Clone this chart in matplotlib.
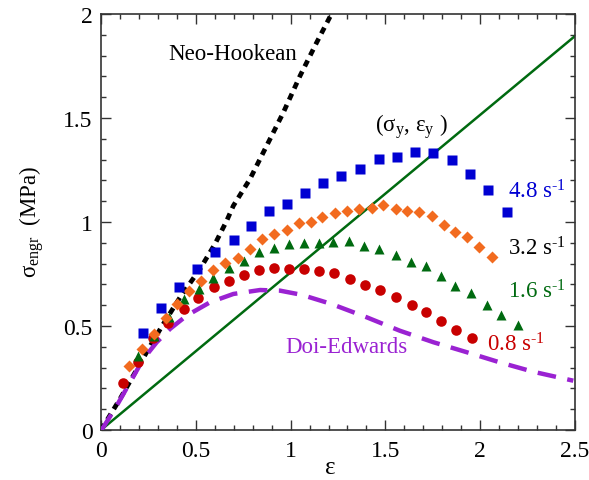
import matplotlib
matplotlib.use("Agg")
import matplotlib.pyplot as plt
from matplotlib.ticker import MultipleLocator

plt.rcParams['font.family']      = ['Liberation Serif', 'DejaVu Serif']
plt.rcParams['mathtext.fontset'] = 'custom'
plt.rcParams['mathtext.rm']      = 'Liberation Serif'
plt.rcParams['mathtext.it']      = 'Liberation Serif:italic'

# 4.8 1/s  (squares)
strain_48 = [0.220, 0.315, 0.411, 0.508, 0.603, 0.700, 0.793, 0.888, 0.983, 1.078,
             1.172, 1.267, 1.366, 1.465, 1.560, 1.656, 1.753, 1.851, 1.946, 2.043, 2.140]
stress_48 = [0.466, 0.588, 0.688, 0.774, 0.857, 0.912, 0.981, 1.054, 1.087, 1.141,
             1.189, 1.221, 1.256, 1.301, 1.314, 1.335, 1.330, 1.297, 1.231, 1.152, 1.047]

# 3.2 1/s  (diamonds)
strain_32 = [0.148, 0.215, 0.280, 0.344, 0.402, 0.466, 0.527, 0.591, 0.656, 0.721, 0.786,
             0.849, 0.911, 0.980, 1.044, 1.105, 1.168, 1.234, 1.296, 1.362, 1.428, 1.489,
             1.554, 1.615, 1.679, 1.744, 1.809, 1.867, 1.929, 1.994, 2.061]
stress_32 = [0.308, 0.389, 0.462, 0.540, 0.606, 0.668, 0.715, 0.768, 0.801, 0.827, 0.869,
             0.918, 0.942, 0.962, 0.993, 1.002, 1.023, 1.043, 1.051, 1.063, 1.066, 1.083,
             1.063, 1.051, 1.049, 1.027, 0.986, 0.954, 0.930, 0.882, 0.830]

# 1.6 1/s  (triangles)
strain_16 = [0.197, 0.277, 0.359, 0.438, 0.515, 0.593, 0.674, 0.754, 0.835, 0.912, 0.993,
             1.070, 1.151, 1.225, 1.310, 1.389, 1.468, 1.554, 1.635, 1.714, 1.793, 1.869,
             1.952, 2.035, 2.111, 2.198]
stress_16 = [0.357, 0.452, 0.543, 0.628, 0.677, 0.732, 0.780, 0.813, 0.857, 0.873, 0.895,
             0.901, 0.899, 0.905, 0.910, 0.886, 0.870, 0.841, 0.809, 0.787, 0.739, 0.692,
             0.657, 0.601, 0.553, 0.507]

# 0.8 1/s  (circles)
strain_08 = [0.114, 0.197, 0.276, 0.355, 0.438, 0.513, 0.596, 0.677, 0.754, 0.835, 0.912,
             0.992, 1.070, 1.150, 1.230, 1.313, 1.392, 1.472, 1.555, 1.639, 1.714, 1.793,
             1.872, 1.955]
stress_08 = [0.226, 0.328, 0.441, 0.513, 0.582, 0.636, 0.689, 0.716, 0.747, 0.771, 0.777,
             0.774, 0.773, 0.766, 0.756, 0.727, 0.698, 0.671, 0.640, 0.601, 0.566, 0.523,
             0.481, 0.442]

# model curves
neo_strain = [0.0, 0.03, 0.10, 0.17, 0.25, 0.32, 0.417, 0.522, 0.601, 0.663, 0.698,
              0.786, 0.874, 0.962, 1.050, 1.138, 1.211]
neo_stress = [0.0, 0.045, 0.149, 0.261, 0.389, 0.497, 0.638, 0.774, 0.894, 1.006, 1.078,
              1.207, 1.367, 1.527, 1.703, 1.864, 1.992]

de_strain = [0.0, 0.012, 0.083, 0.153, 0.223, 0.294, 0.364, 0.452, 0.575, 0.698, 0.839,
             0.944, 1.058, 1.215, 1.401, 1.577, 1.753, 1.929, 2.104, 2.280, 2.491]
de_stress = [0.0, 0.013, 0.117, 0.229, 0.341, 0.422, 0.486, 0.550, 0.614, 0.654, 0.673,
             0.670, 0.650, 0.606, 0.542, 0.477, 0.422, 0.374, 0.325, 0.280, 0.237]

yield_line_x = [0.0, 2.5]
yield_line_y = [0.0, 1.894]

rate_labels = ['4.8', '3.2', '1.6', '0.8']

BLUE   = '#0000D2'
ORANGE = '#F26B1F'
GREEN  = '#006A10'
RED    = '#C80000'
PURPLE = '#9A22D2'
FS     = 16.5

fig = plt.figure(figsize=(5.89, 4.81), dpi=100)
ax  = fig.add_axes([101/589, 50/481, 474/589, 416/481])

ax.plot(yield_line_x, yield_line_y, color=GREEN, lw=1.8, zorder=2)
ax.plot(neo_strain, neo_stress, color='black', lw=3.4, ls=(0, (1.4, 1.2)), zorder=3)
ax.plot(de_strain, de_stress, color=PURPLE, lw=3.2, ls=(0, (4.2, 2.6)), zorder=3)

ax.plot(strain_08, stress_08, 'o', color=RED,    ms=7.6, mec='none', zorder=4)
ax.plot(strain_16, stress_16, '^', color=GREEN,  ms=7.2, mec='none', zorder=4)
ax.plot(strain_32, stress_32, 'D', color=ORANGE, ms=6.2, mec='none', zorder=4)
ax.plot(strain_48, stress_48, 's', color=BLUE,   ms=7.4, mec='none', zorder=4)

ax.set_xlim(0, 2.5)
ax.set_ylim(0, 2)
ax.xaxis.set_major_locator(MultipleLocator(0.5))
ax.xaxis.set_minor_locator(MultipleLocator(0.1))
ax.yaxis.set_major_locator(MultipleLocator(0.5))
ax.yaxis.set_minor_locator(MultipleLocator(0.1))
ax.xaxis.set_major_formatter(plt.FuncFormatter(lambda v, p: f'{v:g}'))
ax.yaxis.set_major_formatter(plt.FuncFormatter(lambda v, p: f'{v:g}'))
ax.tick_params(which='both', direction='in', top=True, right=True, width=1.0,
               labelsize=17, color='#333333')
ax.tick_params(which='major', length=7.5)
ax.tick_params(which='minor', length=3.8)
ax.tick_params(axis='x', pad=7)
ax.tick_params(axis='y', pad=6)
for s in ax.spines.values():
  s.set_linewidth(1.2)
  s.set_color('#333333')

sup = r' s$^{\text{-1}}$'

# annotations
ax.text(0.696, 1.784, 'Neo-Hookean', fontsize=FS, ha='center', va='baseline')
ax.text(1.445, 1.4375, r'(σ$_{\rm y}$, ε$_{\rm y}$ )', fontsize=FS, ha='left', va='baseline')
ax.text(2.147, 1.12,  rate_labels[0] + sup, color=BLUE,    fontsize=FS, va='baseline')
ax.text(2.147, 0.846, rate_labels[1] + sup, color='black', fontsize=FS, va='baseline')
ax.text(2.147, 0.639, rate_labels[2] + sup, color=GREEN,   fontsize=FS, va='baseline')
ax.text(2.036, 0.380, rate_labels[3] + sup, color=RED,     fontsize=FS, va='baseline')
ax.text(0.970, 0.375, 'Doi-Edwards', color=PURPLE, fontsize=FS, va='baseline')

ax.text(1.21, -0.18, 'ε', fontsize=18, ha='center', va='center', clip_on=False)
fig.text(32/589, 1 - 222/481, r'σ$_{\rm engr}$  (MPa)', fontsize=FS, rotation=90,
         ha='center', va='center')

fig.savefig('out.png', dpi=100)
